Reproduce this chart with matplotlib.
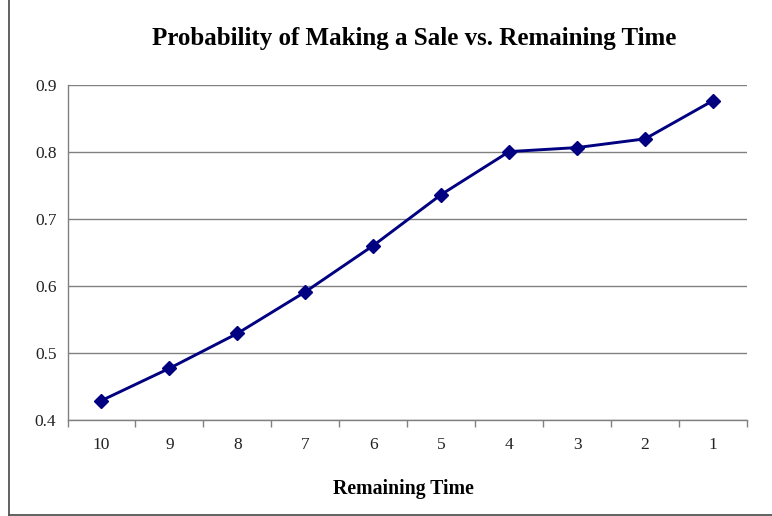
import matplotlib
matplotlib.use("Agg")
import matplotlib.pyplot as plt
from matplotlib.lines import Line2D
import numpy as np

# Chart data
remaining_time = ["10", "9", "8", "7", "6", "5", "4", "3", "2", "1"]
probability = [0.429, 0.477, 0.529, 0.591, 0.660, 0.736, 0.800, 0.806, 0.819, 0.876]
y_ticks = [0.4, 0.5, 0.6, 0.7, 0.8, 0.9]
y_tick_labels = ["0.4", "0.5", "0.6", "0.7", "0.8", "0.9"]

plt.rcParams["font.family"] = ["Liberation Serif", "DejaVu Serif"]

W, H = 772, 516
fig = plt.figure(figsize=(W / 100, H / 100), dpi=100)
fig.patch.set_facecolor("white")

left, right, top, bottom = 67.5, 747, 84.5, 420
ax = fig.add_axes([left / W, 1 - bottom / H, (right - left) / W, (bottom - top) / H])

x = np.arange(len(remaining_time))
ax.plot(x, probability, color="#000080", lw=2.1, marker="D", markersize=7.5,
        markerfacecolor="#000080", markeredgecolor="#000080", zorder=3, clip_on=False)

ax.set_xlim(-0.5, len(remaining_time) - 0.5)
ax.set_ylim(0.4, 0.9)

# y axis: gridlines at each tick
ax.set_yticks(y_ticks)
ax.set_yticklabels(y_tick_labels, fontsize=12.5)
ax.tick_params(axis="y", length=0, pad=8, colors="#222222")
ax.yaxis.grid(True, color="#808080", lw=1.0)
ax.set_axisbelow(True)

# x axis: labels centred on categories, tick marks between categories
ax.set_xticks(x)
ax.set_xticklabels(remaining_time, fontsize=12.5)
ax.set_xticks(np.arange(-0.5, len(remaining_time)), minor=True)
ax.tick_params(axis="x", which="major", length=0, pad=12.5, colors="#222222")
ax.tick_params(axis="x", which="minor", length=5, width=1.0, color="#808080", direction="out")

for side in ("top", "right"):
    ax.spines[side].set_visible(False)
for side in ("left", "bottom"):
    ax.spines[side].set_color("#808080")
    ax.spines[side].set_linewidth(1.0)

fig.text(403 / W, 1 - 494 / H, "Remaining Time", ha="center", va="baseline",
         fontsize=14.2, fontweight="bold")

fig.text(414 / W, 1 - 45.5 / H, "Probability of Making a Sale vs. Remaining Time",
         ha="center", va="baseline", fontsize=18, fontweight="bold")

# outer chart frame (left and bottom edges)
fig.add_artist(Line2D([8.5 / W, 8.5 / W], [1 - 514.5 / H, 1.0], transform=fig.transFigure,
                      color="#555555", lw=1.3))
fig.add_artist(Line2D([8.5 / W, 1.0], [1 - 514.5 / H, 1 - 514.5 / H], transform=fig.transFigure,
                      color="#555555", lw=1.3))

fig.savefig("out.png", dpi=100, facecolor="white")
